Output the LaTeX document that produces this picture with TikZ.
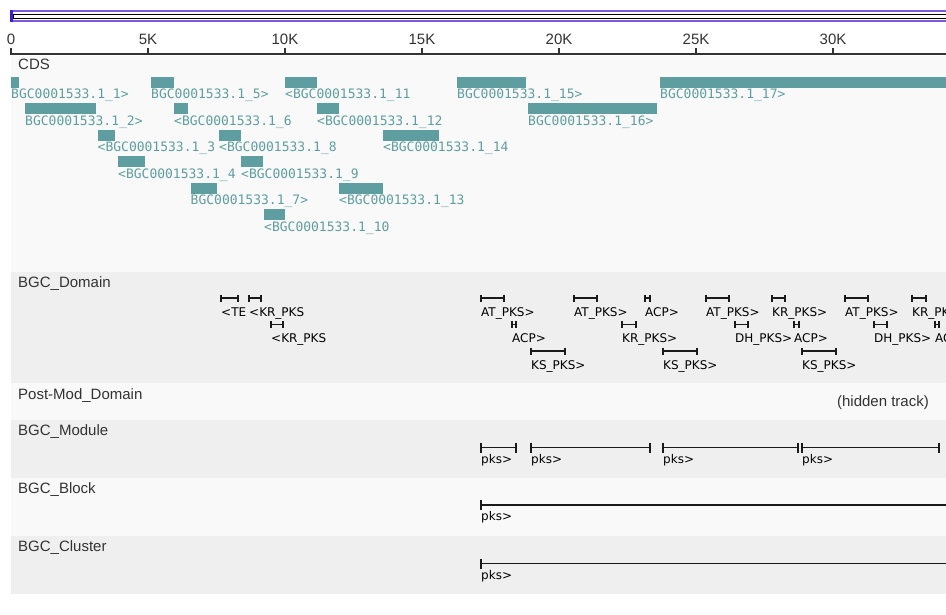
\documentclass[tikz,border=0pt]{standalone}
\usepackage{fontspec}
\setmainfont{Liberation Sans}
\newfontfamily\genefont{DejaVu Sans Mono}
\newfontfamily\domfont{DejaVu Sans}

\definecolor{cdsteal}{HTML}{5F9EA0}
\definecolor{trackgray}{HTML}{EFEFEF}
\definecolor{tracklight}{HTML}{F9F9F9}
\definecolor{ovpurple}{HTML}{7E57E0}
\definecolor{ovblue}{HTML}{3B1FD8}
\definecolor{inktext}{HTML}{333333}
\definecolor{featink}{HTML}{1A1A1A}

\tikzset{
  tracklabel/.style={anchor=base west, inner sep=0pt, text=inktext, font=\fontsize{15}{15}\selectfont},
  ticklabel/.style={anchor=base, inner sep=0pt, text=inktext, font=\fontsize{15}{15}\selectfont},
  genelabel/.style={anchor=base west, inner sep=0pt, text=cdsteal, font=\genefont\fontsize{13}{13}\selectfont},
  genebox/.style={fill=cdsteal, draw=none},
  domlabel/.style={anchor=base west, inner sep=0pt, text=black, font=\domfont\fontsize{12}{12}\selectfont},
  featline/.style={draw=featink, line width=1.8pt},
  feattick/.style={draw=featink, line width=1.2pt},
  axisline/.style={draw=inktext, line width=1.6pt},
}

% CDS gene: name, start x, end x, row, label
\newcommand\geneat[5]{%
  \pgfmathsetmacro\gtop{77+26.5*(#4-1)}%
  \fill[genebox] (#2,\gtop) rectangle (#3,\gtop+11);
  \node[genelabel] (#1) at (#2,\gtop+22) {#5};
}
% domain span: name, start x, end x, row, label
\newcommand\domat[5]{%
  \pgfmathsetmacro\dy{298+26.5*(#4-1)}%
  \draw[featline] (#2,\dy) -- (#3,\dy);
  \draw[feattick] (#2,\dy-3.5) -- (#2,\dy+3.5) (#3,\dy-3.5) -- (#3,\dy+3.5);
  \node[domlabel] (#1) at (#2,\dy+18) {#5};
}
% long span (module/block/cluster): name, start x, end x, line y, label
\newcommand\spanat[5]{%
  \draw[featline] (#2,#4) -- (#3,#4);
  \draw[feattick] (#2,#4-5) -- (#2,#4+5) (#3,#4-5) -- (#3,#4+5);
  \node[domlabel] (#1) at (#2,#4+15.5) {#5};
}

\begin{document}
\begin{tikzpicture}[x=1pt, y=-1pt]
\useasboundingbox (0,0) rectangle (946,615);
\clip (0,0) rectangle (946,615);
\fill[white] (0,0) rectangle (946,615);

% overview bar
\draw[ovpurple, line width=1.6pt] (11,11) rectangle (960,21);
\draw[black, line width=0.7pt] (13,14) rectangle (960,18.5);
\draw[ovblue, line width=3pt] (11.5,10.2) -- (11.5,21.8);

% track backgrounds
\fill[tracklight] (11,56) rectangle (946,272);
\fill[trackgray]  (11,272) rectangle (946,383);
\fill[tracklight] (11,383) rectangle (946,420);
\fill[trackgray]  (11,420) rectangle (946,478);
\fill[tracklight] (11,478) rectangle (946,536);
\fill[trackgray]  (11,536) rectangle (946,594);

% ruler
\draw[axisline] (10,54) -- (946,54);
\foreach \k/\lab in {0/0,1/5K,2/10K,3/15K,4/20K,5/25K,6/30K}{
  \draw[inktext, line width=1.2pt] (11+137*\k,48.5) -- (11+137*\k,54);
  \node[ticklabel] (tick\k) at (11+137*\k,44.7) {\lab};
}

% track titles
\node[tracklabel] (tCDS) at (18,69.5) {CDS};
\node[tracklabel] (tDom) at (18,287.7) {BGC\_Domain};
\node[tracklabel] (tPost) at (18,399.3) {Post-Mod\_Domain};
\node[tracklabel] (tMod) at (18,435.7) {BGC\_Module};
\node[tracklabel] (tBlock) at (18,493.3) {BGC\_Block};
\node[tracklabel] (tClus) at (18,551.7) {BGC\_Cluster};
\node[tracklabel, anchor=base east] (hidden) at (929,406.7) {(hidden track)};

% CDS genes
\geneat{g1}{11}{19}{1}{BGC0001533.1\_1>}
\geneat{g5}{151}{174}{1}{BGC0001533.1\_5>}
\geneat{g11}{285}{317}{1}{<BGC0001533.1\_11}
\geneat{g15}{457}{526}{1}{BGC0001533.1\_15>}
\geneat{g17}{660}{960}{1}{BGC0001533.1\_17>}
\geneat{g2}{25}{96}{2}{BGC0001533.1\_2>}
\geneat{g6}{174}{188}{2}{<BGC0001533.1\_6}
\geneat{g12}{317}{339}{2}{<BGC0001533.1\_12}
\geneat{g16}{528}{657}{2}{BGC0001533.1\_16>}
\geneat{g3}{97.5}{115}{3}{<BGC0001533.1\_3}
\geneat{g8}{219}{241}{3}{<BGC0001533.1\_8}
\geneat{g14}{383}{439}{3}{<BGC0001533.1\_14}
\geneat{g4}{118}{145}{4}{<BGC0001533.1\_4}
\geneat{g9}{241}{262.5}{4}{<BGC0001533.1\_9}
\geneat{g7}{190.5}{217}{5}{BGC0001533.1\_7>}
\geneat{g13}{339}{383}{5}{<BGC0001533.1\_13}
\geneat{g10}{264}{284.5}{6}{<BGC0001533.1\_10}

% domains
\domat{d1}{221}{238}{1}{<TE}
\domat{d2}{249}{261}{1}{<KR\_PKS}
\domat{d3}{481}{504}{1}{AT\_PKS>}
\domat{d4}{574}{597}{1}{AT\_PKS>}
\domat{d5}{645}{650}{1}{ACP>}
\domat{d6}{706}{729}{1}{AT\_PKS>}
\domat{d7}{772}{785}{1}{KR\_PKS>}
\domat{d8}{845}{868}{1}{AT\_PKS>}
\domat{d9}{912}{926}{1}{KR\_PKS>}
\domat{d10}{271}{283}{2}{<KR\_PKS}
\domat{d11}{512}{516}{2}{ACP>}
\domat{d12}{622}{636}{2}{KR\_PKS>}
\domat{d13}{735}{748}{2}{DH\_PKS>}
\domat{d14}{794}{799}{2}{ACP>}
\domat{d15}{874}{887}{2}{DH\_PKS>}
\domat{d16}{935}{939}{2}{ACP>}
\domat{d17}{531}{565}{3}{KS\_PKS>}
\domat{d18}{663}{697}{3}{KS\_PKS>}
\domat{d19}{802}{836}{3}{KS\_PKS>}

% modules
\spanat{m1}{481}{516}{447.5}{pks>}
\spanat{m2}{531}{650}{447.5}{pks>}
\spanat{m3}{663}{798}{447.5}{pks>}
\spanat{m4}{802}{939}{447.5}{pks>}

% block and cluster
\spanat{b1}{481}{970}{505}{pks>}
\spanat{c1}{481}{970}{563.5}{pks>}
\end{tikzpicture}
\end{document}
